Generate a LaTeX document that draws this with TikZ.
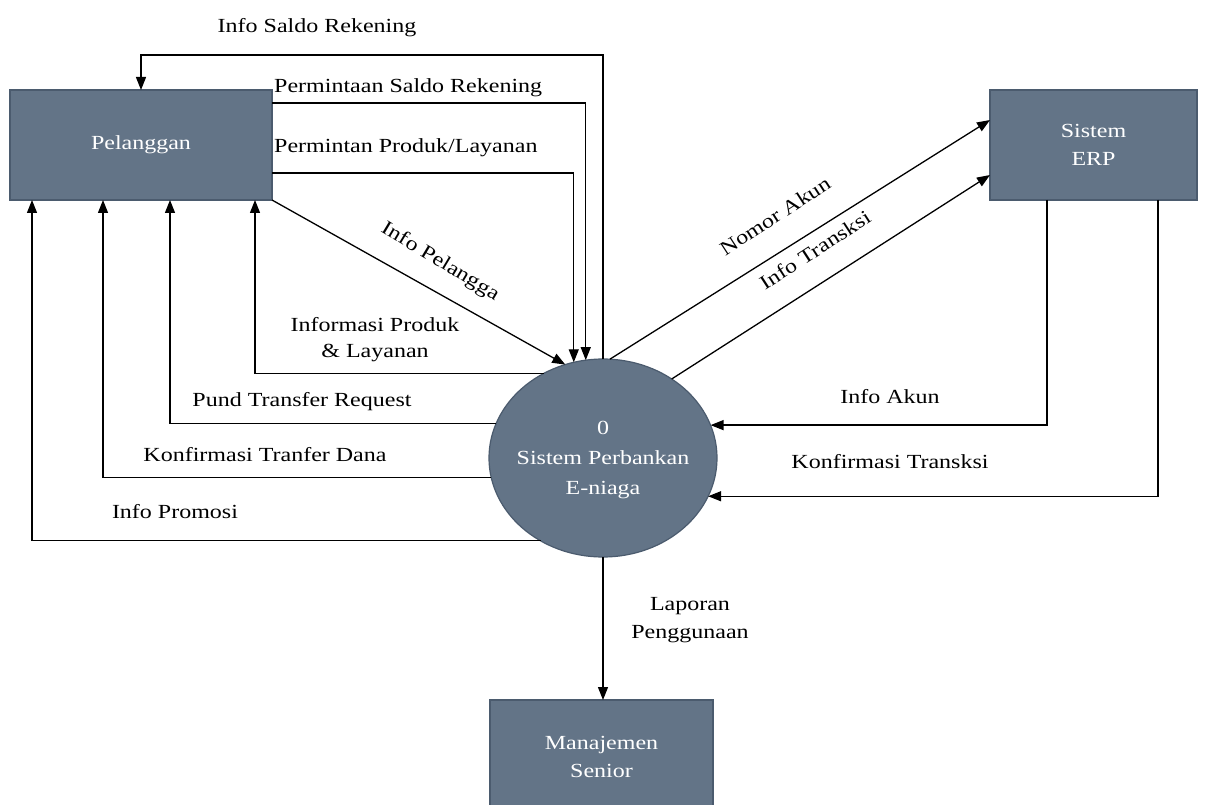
\documentclass[tikz,border=0pt]{standalone}
\usepackage{fontspec}
\setmainfont{Liberation Serif}[FakeStretch=1.2]
\usetikzlibrary{arrows.meta,shapes.geometric,calc}
\definecolor{boxfill}{HTML}{637487}
\definecolor{boxline}{HTML}{4B5B6E}
\tikzset{
  ent/.style={draw=boxline,fill=boxfill,line width=1.2pt,text=white,inner sep=0pt,outer sep=0pt,align=center,font=\fontsize{20}{28}\selectfont},
  arr/.style={draw=black,line width=1.3pt,-{Triangle[length=13pt,width=10pt]}},
  lbl/.style={font=\fontsize{20}{27}\selectfont,inner sep=0pt,align=center},
}
\begin{document}
\begin{tikzpicture}[x=1pt,y=-1pt]
\clip (0,0) rectangle (1208,805);
\fill[white] (0,0) rectangle (1208,805);
% entities
\node[ent,minimum width=262,minimum height=110] (pel) at (141,145) {Pelanggan};
\node[ent,minimum width=207,minimum height=110] (erp) at (1093.5,145) {Sistem\\ERP};
\node[ent,minimum width=223,minimum height=114] (mgr) at (601.5,757) {Manajemen\\Senior};
\node[ellipse,draw=boxline,fill=boxfill,line width=1.2pt,inner sep=0pt,outer sep=0pt,minimum width=228,minimum height=198] (proc) at (603,458) {};
\node[ent,draw=none,fill=none,font=\fontsize{20}{30}\selectfont] (proctext) at (603,460) {0\\Sistem Perbankan\\E-niaga};
% helper
\coordinate (ytop) at (0,55);
% connectors
\draw[arr] (proc.north) -- (proc.north |- ytop) -| (pel.north);
\draw[arr] ([yshift=42]pel.east) -| (proc.100.6);
\draw[arr] ([yshift=-28]pel.east) -| (proc.107.8);
\draw[arr] (pel.south east) -- (proc.112.6);
\draw[arr] (proc.125.2) -| ([xshift=114]pel.south);
\draw[arr] (proc.162.8) -| ([xshift=29]pel.south);
\draw[arr] (proc.-170.3) -| ([xshift=-38]pel.south);
\draw[arr] (proc.233.8) -| ([xshift=-109]pel.south);
\draw[arr] (proc.86) -- ([yshift=25]erp.west);
\draw[arr] (proc.49.3) -- ([yshift=-30]erp.west);
\draw[arr] ([xshift=-46.5]erp.south) |- (proc.17.2);
\draw[arr] ([xshift=64.5]erp.south) |- (proc.-20.6);
\draw[arr] (proc.south) -- (proc.south |- mgr.north);
% labels
\node[lbl] (l1) at (317,28) {Info Saldo Rekening};
\node[lbl,anchor=west] (l2) at (274,88) {Permintaan Saldo Rekening};
\node[lbl,anchor=west] (l3) at (274,148) {Permintan Produk/Layanan};
\node[lbl,rotate=-31] (l4) at (440,262) {Info Pelangga};
\node[lbl,font=\fontsize{20}{26}\selectfont] (l5) at (375,340) {Informasi Produk\\\& Layanan};
\node[lbl] (l6) at (302,402) {Pund Transfer Request};
\node[lbl] (l7) at (265,455) {Konfirmasi Tranfer Dana};
\node[lbl] (l8) at (175,512) {Info Promosi};
\node[lbl,rotate=33] (l9) at (775,216) {Nomor Akun};
\node[lbl,rotate=33] (l10) at (815,250) {Info Transksi};
\node[lbl] (l11) at (890,397) {Info Akun};
\node[lbl] (l12) at (890,462) {Konfirmasi Transksi};
\node[lbl,font=\fontsize{20}{28}\selectfont] (l13) at (690,620) {Laporan\\Penggunaan};
\end{tikzpicture}
\end{document}
